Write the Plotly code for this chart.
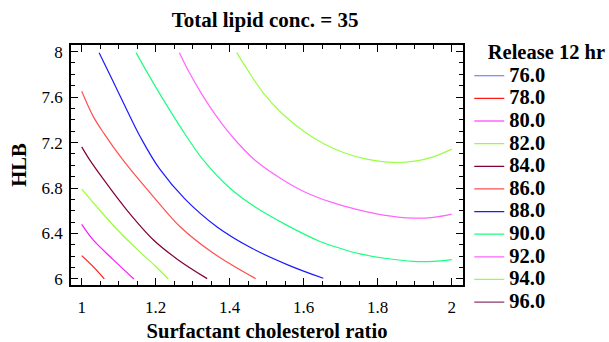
import plotly.graph_objects as go

# ---- data ----
levels = [76.0, 78.0, 80.0, 82.0, 84.0, 86.0, 88.0, 90.0, 92.0, 94.0, 96.0]

x76 = []
y76 = []
x78 = [1.0, 1.031, 1.061]
y78 = [6.205, 6.108, 6.0]
x80 = [1.0, 1.031, 1.085, 1.141]
y80 = [6.48, 6.343, 6.17, 6.0]
x82 = [1.0, 1.05, 1.10, 1.15, 1.20, 1.234]
y82 = [6.79, 6.60, 6.42, 6.26, 6.11, 6.0]
x84 = [1.0, 1.022, 1.058, 1.122, 1.194, 1.26, 1.339]
y84 = [7.162, 7.045, 6.88, 6.606, 6.343, 6.17, 6.003]
x86 = [1.0, 1.031, 1.06, 1.09, 1.13, 1.194, 1.266, 1.356, 1.47]
y86 = [7.651, 7.43, 7.28, 7.14, 6.97, 6.723, 6.459, 6.226, 6.003]
x88 = [1.047, 1.08, 1.12, 1.16, 1.21, 1.28, 1.365, 1.46, 1.56, 1.653]
y88 = [7.99, 7.77, 7.50, 7.24, 6.97, 6.70, 6.46, 6.27, 6.12, 6.006]
x90 = [1.1468, 1.18, 1.22, 1.27, 1.33, 1.40, 1.47, 1.55, 1.644, 1.698, 1.752, 1.824, 1.896, 1.95, 2.0]
y90 = [7.991, 7.80, 7.58, 7.32, 7.04, 6.80, 6.63, 6.48, 6.33, 6.27, 6.22, 6.18, 6.155, 6.155, 6.17]
x92 = [1.264, 1.29, 1.32, 1.36, 1.41, 1.47, 1.54, 1.60, 1.67, 1.74, 1.82, 1.896, 1.95, 2.0]
y92 = [7.99, 7.82, 7.65, 7.45, 7.24, 7.04, 6.88, 6.77, 6.68, 6.615, 6.56, 6.535, 6.542, 6.571]
x94 = [1.419, 1.45, 1.49, 1.54, 1.60, 1.653, 1.707, 1.77, 1.842, 1.905, 1.95, 2.0]
y94 = [7.991, 7.83, 7.64, 7.46, 7.30, 7.192, 7.113, 7.054, 7.025, 7.039, 7.074, 7.142]
x96 = []
y96 = []

xs = [x76, x78, x80, x82, x84, x86, x88, x90, x92, x94, x96]
ys = [y76, y78, y80, y82, y84, y86, y88, y90, y92, y94, y96]

x_ticks = [1, 1.2, 1.4, 1.6, 1.8, 2]
y_ticks = [6, 6.4, 6.8, 7.2, 7.6, 8]

# ---- styles ----
colors = ['#6464ff', '#ff1a1a', '#ff1aff', '#99ff33', '#800038', '#ff5050',
          '#1a1aff', '#1aff80', '#ff66ff', '#99ff44', '#8a3a6a']
FONT = 'Liberation Serif'

fig = go.Figure()
for lv, xx, yy, c in zip(levels, xs, ys, colors):
    fig.add_trace(go.Scatter(
        x=xx if xx else [None], y=yy if yy else [None],
        mode='lines', line=dict(color=c, width=1.2, shape='spline', smoothing=1.0),
        name="<span style='font-size:20.5px'><b>%.1f</b></span>" % lv,
        hoverinfo='skip'))

axis_common = dict(
    showline=True, linecolor='black', linewidth=1.5, mirror='ticks',
    ticks='inside', ticklen=7, tickwidth=1.2, tickcolor='black',
    showgrid=False, zeroline=False, automargin=False,
    tickfont=dict(family=FONT, size=17, color='black'),
)

fig.update_xaxes(
    range=[0.971, 2.0305], tickmode='array', tickvals=x_ticks,
    ticktext=[f'{v:g}' for v in x_ticks], ticklabelstandoff=6,
    minor=dict(dtick=0.05, tick0=1, ticks='inside', ticklen=4, tickcolor='black', tickwidth=1),
    title=dict(text='<b>Surfactant cholesterol ratio</b>',
               font=dict(family=FONT, size=20.6, color='black'), standoff=18),
    **axis_common)
fig.update_yaxes(
    range=[5.947, 8.058], tickmode='array', tickvals=y_ticks,
    ticktext=[f'{v:g}' for v in y_ticks], ticklabelstandoff=3,
    minor=dict(dtick=0.1, tick0=6, ticks='inside', ticklen=4, tickcolor='black', tickwidth=1),
    title=dict(text='<b>HLB</b>',
               font=dict(family=FONT, size=20.6, color='black'), standoff=9),
    **axis_common)

fig.update_layout(
    width=609, height=342,
    margin=dict(l=71, r=146, t=45, b=57, autoexpand=False),
    paper_bgcolor='white', plot_bgcolor='white',
    title=dict(text='<b>Total lipid conc. = 35</b>', x=0.495, xref='paper',
               y=1 - 19.5 / 342, yref='container', yanchor='middle', xanchor='center',
               font=dict(family=FONT, size=21, color='black')),
    legend=dict(x=1.016, xanchor='left', y=1.059, yanchor='top',
                font=dict(family=FONT, size=15.1, color='black'),
                title=dict(text="&nbsp;&nbsp;&nbsp;<span style='font-size:20.5px'><b>Release 12 hr</b></span>",
                           font=dict(family=FONT, size=22, color='black')),
                bgcolor='rgba(0,0,0,0)', itemwidth=30, tracegroupgap=0, maxheight=335),
    showlegend=True,
)

fig.write_html('out.html')
